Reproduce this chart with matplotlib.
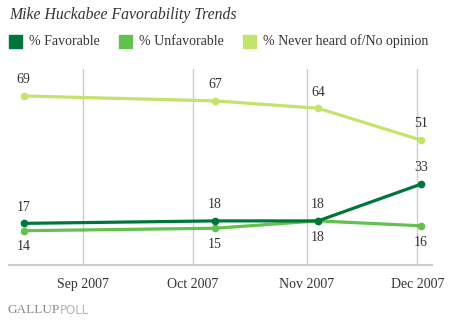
import matplotlib
matplotlib.use("Agg")
import matplotlib.pyplot as plt
import matplotlib.dates as mdates
from matplotlib.patches import Rectangle
import numpy as np

# poll dates and values
dates = ["2007-08-16", "2007-10-07", "2007-11-04", "2007-12-02"]
favorable = [17, 18, 18, 33]
unfavorable = [14, 15, 18, 16]
no_opinion = [69, 67, 64, 51]

series_names = ["% Favorable", "% Unfavorable", "% Never heard of/No opinion"]
tick_dates = ["2007-09-01", "2007-10-01", "2007-11-01", "2007-12-01"]
tick_labels = ["Sep 2007", "Oct 2007", "Nov 2007", "Dec 2007"]

colors = ["#00773a", "#62c14f", "#c3e46c"]
serif = "Liberation Serif"

x = mdates.datestr2num(dates)
ticks = mdates.datestr2num(tick_dates)

fig = plt.figure(figsize=(4.5, 3.25), dpi=100)
ax = fig.add_axes([0.02, 0.1846, 0.94, 0.603])

ax.set_xlim(mdates.datestr2num("2007-08-12"), mdates.datestr2num("2007-12-05"))
ax.set_ylim(0, 80)

for t in ticks:
    ax.axvline(t, color="#cccccc", lw=1.0, zorder=0)

# draw light ones first so the dark line sits on top
order = [2, 1, 0]
data = [favorable, unfavorable, no_opinion]
for i in order:
    ax.plot(x, data[i], color=colors[i], lw=2.3, marker="o", ms=4.5,
            solid_capstyle="round", zorder=3 + (2 - i))

# value labels: above for favorable/no opinion, below for unfavorable
fs = 10
for xi, v in zip(x, no_opinion):
    ax.annotate(str(v), (xi, v), xytext=(0, 7), textcoords="offset points",
                ha="center", va="bottom", fontsize=fs, family=serif, color="#333333")
for xi, v in zip(x, favorable):
    ax.annotate(str(v), (xi, v), xytext=(0, 7), textcoords="offset points",
                ha="center", va="bottom", fontsize=fs, family=serif, color="#333333")
for xi, v in zip(x, unfavorable):
    ax.annotate(str(v), (xi, v), xytext=(0, -7), textcoords="offset points",
                ha="center", va="top", fontsize=fs, family=serif, color="#333333")

for s in ["top", "right", "left"]:
    ax.spines[s].set_visible(False)
ax.spines["bottom"].set_color("#cccccc")
ax.spines["bottom"].set_linewidth(1.5)
ax.set_yticks([])
ax.set_xticks(ticks)
ax.set_xticklabels(tick_labels, family=serif, fontsize=fs, color="#333333")
ax.tick_params(axis="x", length=0, pad=9)

fig.text(0.02, 0.953, "Mike Huckabee Favorability Trends", family=serif,
         style="italic", fontsize=11.3, color="#333333", va="center", ha="left")

# legend
leg_x = [9, 119, 243]
for i in range(3):
    fig.patches.append(Rectangle((leg_x[i] / 450, 1 - 48 / 325), 13 / 450, 13 / 325,
                                 transform=fig.transFigure, color=colors[i]))
    fig.text((leg_x[i] + 20) / 450, 1 - 41.5 / 325, series_names[i], family=serif,
             fontsize=fs, color="#333333", va="center", ha="left")

fig.text(7 / 450, 1 - 310 / 325, "GALLUP", family=serif, fontsize=9.5,
         color="#8a8a8a", va="center", ha="left")
fig.text(60 / 450, 1 - 310 / 325, "POLL", family="DejaVu Sans", fontsize=8.5,
         color="#b5b5b5", va="center", ha="left")

fig.savefig("out.png", dpi=100)
